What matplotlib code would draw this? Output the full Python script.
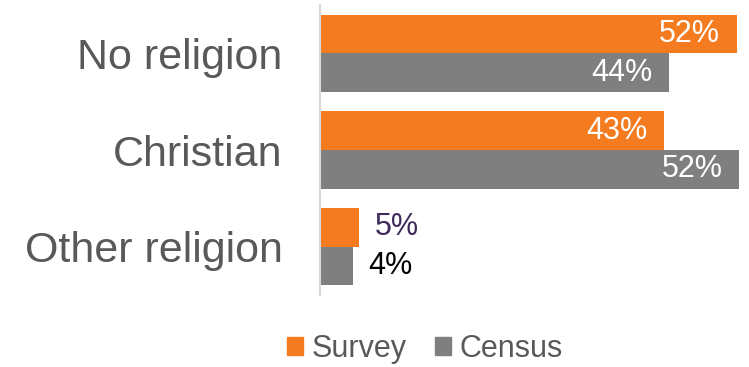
import numpy as np
import matplotlib
matplotlib.use('Agg')
import matplotlib.pyplot as plt
from matplotlib.patches import Patch

plt.rcParams['font.family'] = ['Liberation Sans', 'DejaVu Sans']

# data (percent)
categories = ['No religion', 'Christian', 'Other religion']
survey = [52.1, 43.0, 4.9]
census = [43.6, 52.4, 4.1]
series_names = ['Survey', 'Census']

orange = '#F47B20'
grey = '#7F7F7F'
text_grey = '#595959'

fig = plt.figure(figsize=(7.49, 3.67), dpi=100)
ax = fig.add_axes([320/749, 72/367, 420/749, 290/367])

y = np.arange(len(categories))
h = 0.4
bars_s = ax.barh(y - h/2, survey, height=h, color=orange, edgecolor='none')
bars_c = ax.barh(y + h/2, census, height=h, color=grey, edgecolor='none')

ax.set_xlim(0, 52.5)
ax.set_ylim(2.5, -0.5)
ax.set_yticks(y)
ax.set_yticklabels(categories, fontsize=31, color=text_grey)
ax.tick_params(axis='y', length=0, pad=27)
ax.set_xticks([])
for s in ['top', 'right', 'bottom']:
    ax.spines[s].set_visible(False)
ax.spines['left'].set_color('#D9D9D9')
ax.spines['left'].set_linewidth(1.5)

# value labels: inside for big bars, outside for small ones
outside_colors = {'Survey': '#3F2A5C', 'Census': 'black'}
for name, bars, vals in [('Survey', bars_s, survey), ('Census', bars_c, census)]:
    for b, v in zip(bars, vals):
        yc = b.get_y() + b.get_height()/2
        if v > 10:
            ax.annotate(f'{v:.0f}%', (v, yc), xytext=(-12, 0), textcoords='offset points',
                        ha='right', va='center', fontsize=22, color='white')
        else:
            ax.annotate(f'{v:.0f}%', (v, yc), xytext=(11, 0), textcoords='offset points',
                        ha='left', va='center', fontsize=22, color=outside_colors[name])

handles = [Patch(color=orange), Patch(color=grey)]
leg = fig.legend(handles, series_names, loc='center', bbox_to_anchor=(425/749, 1 - 349/367),
                 ncol=2, frameon=False, fontsize=22, handlelength=0.52, handleheight=0.52,
                 handletextpad=0.28, columnspacing=0.95, borderpad=0)
for t in leg.get_texts():
    t.set_color(text_grey)

plt.savefig('out.png', dpi=100)
